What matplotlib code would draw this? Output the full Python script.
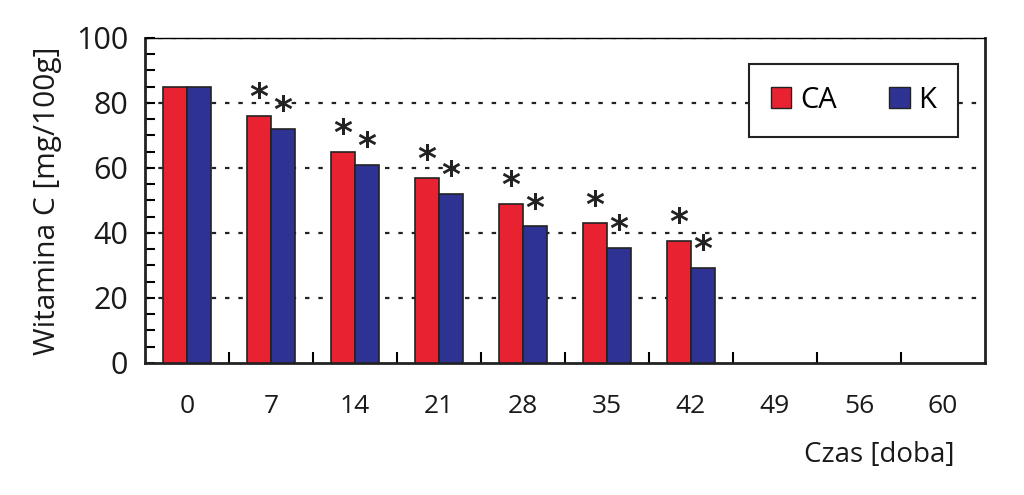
import numpy as np
import matplotlib.pyplot as plt
from matplotlib.ticker import MultipleLocator
from matplotlib.patches import Patch

plt.rcParams['font.family'] = ['Open Sans', 'DejaVu Sans']

days = ['0', '7', '14', '21', '28', '35', '42', '49', '56', '60']
ca = [85, 76, 65, 57, 49, 43, 37.5]
k = [85, 72, 61, 52, 42, 35.5, 29.3]
star_ca = [False, True, True, True, True, True, True]
star_k = [False, True, True, True, True, True, True]

red = '#E82230'
blue = '#2E3393'

fig = plt.figure(figsize=(10.24, 4.95), dpi=100)
ax = fig.add_axes([0.1416, 0.2667, 0.8203, 0.6566])

x = np.arange(len(ca))
w = 0.29
ax.bar(x - w/2, ca, w, color=red, edgecolor='#222222', linewidth=1.2, zorder=3)
ax.bar(x + w/2, k, w, color=blue, edgecolor='#222222', linewidth=1.2, zorder=3)

for i in range(len(ca)):
    if star_ca[i]:
        ax.text(x[i] - w/2, ca[i] + 0.2, '*', ha='center', va='bottom',
                fontsize=26, fontweight='bold', color='#222222', zorder=4,
                family='DejaVu Sans')
    if star_k[i]:
        ax.text(x[i] + w/2, k[i] + 0.2, '*', ha='center', va='bottom',
                fontsize=26, fontweight='bold', color='#222222', zorder=4,
                family='DejaVu Sans')

ax.set_xlim(-0.5, len(days) - 0.5)
ax.set_ylim(0, 100)
ax.set_xticks(np.arange(len(days)))
ax.set_xticklabels(days)
ax.set_xticks(np.arange(len(days) - 1) + 0.5, minor=True)
ax.yaxis.set_major_locator(MultipleLocator(20))
ax.yaxis.set_minor_locator(MultipleLocator(5))

ax.tick_params(axis='x', which='major', length=0, pad=22, labelsize=19,
               labelcolor='#1a1a1a')
ax.tick_params(axis='x', which='minor', direction='in', length=8, width=1.5)
ax.tick_params(axis='y', which='both', direction='in', length=7, width=1.5,
               labelsize=22, pad=12, labelcolor='#1a1a1a')

for y in [20, 40, 60, 80, 100]:
    ax.axhline(y, color='#222222', linestyle=(0, (2, 4)), linewidth=1.6, zorder=1)

for s in ['left', 'bottom', 'right']:
    ax.spines[s].set_linewidth(2)
    ax.spines[s].set_color('#222222')
ax.spines['top'].set_linewidth(1)

ax.set_ylabel('Witamina C [mg/100g]', fontsize=21.5, labelpad=10, color='#1a1a1a')
fig.text(0.932, 0.08, 'Czas [doba]', ha='right', va='center', fontsize=20,
         color='#1a1a1a')

handles = [Patch(facecolor=red, edgecolor='#222222'),
           Patch(facecolor=blue, edgecolor='#222222')]
leg = ax.legend(handles, ['CA', 'K'], ncol=2, loc='upper right',
                bbox_to_anchor=(0.968, 0.92), borderaxespad=0, fontsize=21,
                frameon=True, fancybox=False, framealpha=1, edgecolor='#222222',
                handlelength=0.7, handleheight=0.7, handletextpad=0.3,
                columnspacing=1.8, borderpad=0.75)
leg.get_frame().set_linewidth(1.5)
leg.set_zorder(5)

fig.savefig('out.png', dpi=100)
